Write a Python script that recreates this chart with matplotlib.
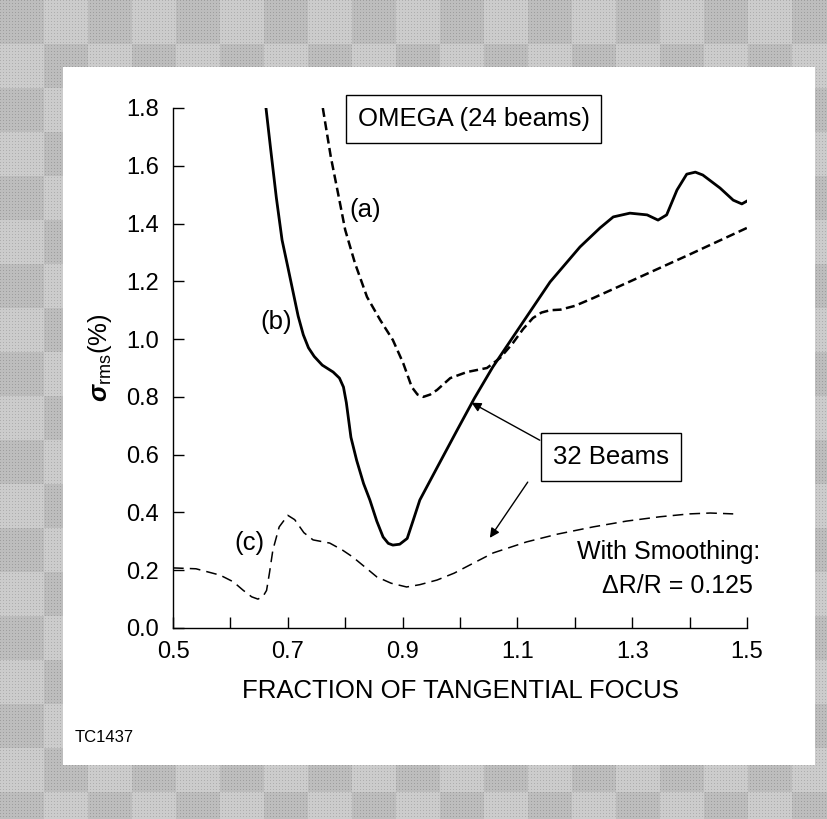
import numpy as np
import matplotlib
matplotlib.use("Agg")
import matplotlib.pyplot as plt
from matplotlib.patches import Rectangle
from matplotlib.ticker import FixedLocator

plt.rcParams['font.family'] = ['Liberation Sans', 'DejaVu Sans']
plt.rcParams['mathtext.fontset'] = 'custom'
plt.rcParams['mathtext.rm'] = 'Liberation Sans'
plt.rcParams['mathtext.it'] = 'Liberation Sans:italic'
plt.rcParams['mathtext.bf'] = 'Liberation Sans:bold:italic'

# curve (a): OMEGA 24 beams, dashed
a_x = [0.761, 0.775, 0.789, 0.800, 0.817, 0.838, 0.861, 0.883, 0.901, 0.916,
       0.926, 0.936, 0.948, 0.960, 0.983, 1.012, 1.047, 1.070, 1.092, 1.110,
       1.127, 1.142, 1.157, 1.175, 1.200, 1.232, 1.300, 1.400, 1.500]
a_y = [1.80, 1.63, 1.49, 1.378, 1.263, 1.146, 1.066, 0.997, 0.917, 0.834,
       0.808, 0.800, 0.808, 0.824, 0.865, 0.886, 0.900, 0.935, 0.986, 1.035,
       1.073, 1.092, 1.100, 1.102, 1.115, 1.142, 1.203, 1.293, 1.385]

# curve (b): 32 beams, solid
b_x = [0.662, 0.670, 0.680, 0.690, 0.700, 0.709, 0.718, 0.727, 0.736, 0.746,
       0.760, 0.779, 0.790, 0.797, 0.802, 0.806, 0.810, 0.820, 0.832, 0.843,
       0.855, 0.866, 0.875, 0.883, 0.895, 0.908, 0.918, 0.930, 0.960, 0.995,
       1.025, 1.057, 1.100, 1.157, 1.209, 1.244, 1.267, 1.296, 1.326, 1.345,
       1.360, 1.378, 1.395, 1.410, 1.423, 1.453, 1.476, 1.491, 1.500]
b_y = [1.80, 1.66, 1.49, 1.343, 1.25, 1.165, 1.08, 1.015, 0.97, 0.94,
       0.91, 0.886, 0.865, 0.834, 0.78, 0.72, 0.66, 0.58, 0.50, 0.443,
       0.37, 0.315, 0.293, 0.287, 0.290, 0.310, 0.370, 0.443, 0.555, 0.685,
       0.795, 0.903, 1.030, 1.198, 1.319, 1.385, 1.423, 1.436, 1.430, 1.412,
       1.430, 1.516, 1.571, 1.578, 1.568, 1.523, 1.481, 1.468, 1.478]

# curve (c): 32 beams with smoothing, long dashes
c_x = [0.500, 0.540, 0.582, 0.605, 0.622, 0.637, 0.648, 0.657, 0.663, 0.668,
       0.674, 0.685, 0.700, 0.712, 0.728, 0.744, 0.773, 0.795, 0.813, 0.835,
       0.855, 0.880, 0.907, 0.930, 0.960, 0.990, 1.017, 1.058, 1.116, 1.170,
       1.232, 1.290, 1.348, 1.400, 1.436, 1.476]
c_y = [0.208, 0.205, 0.183, 0.160, 0.131, 0.108, 0.100, 0.110, 0.130, 0.190,
       0.270, 0.350, 0.390, 0.375, 0.330, 0.305, 0.294, 0.270, 0.246, 0.210,
       0.177, 0.155, 0.142, 0.150, 0.166, 0.190, 0.218, 0.260, 0.298, 0.325,
       0.350, 0.370, 0.385, 0.395, 0.398, 0.395]

x_major = [0.5, 0.7, 0.9, 1.1, 1.3, 1.5]
x_minor = [0.6, 0.8, 1.0, 1.2, 1.4]
y_ticks = [0.0, 0.2, 0.4, 0.6, 0.8, 1.0, 1.2, 1.4, 1.6, 1.8]

W, H = 827, 819
fig = plt.figure(figsize=(W / 100, H / 100), dpi=100)

# halftone-like grey border
bg = fig.add_axes([0, 0, 1, 1], zorder=-10)
yy, xx = np.indices((H, W))
checker = ((xx // 44 + yy // 44) % 2) * 0.06 + 0.74
dots = ((xx % 3 == 0) & (yy % 3 == 0)) * -0.12
bg.imshow(checker + dots, cmap='gray', vmin=0, vmax=1, aspect='auto',
          extent=[0, 1, 0, 1], interpolation='nearest')
bg.add_patch(Rectangle((63 / W, 1 - 765 / H), (815 - 63) / W, (765 - 67) / H,
                       transform=bg.transAxes, facecolor='white', edgecolor='none'))
bg.set_xlim(0, 1)
bg.set_ylim(0, 1)
bg.axis('off')

ax = fig.add_axes([173 / W, 1 - 628 / H, 574 / W, 520 / H])
ax.patch.set_alpha(0)

ax.plot(a_x, a_y, color='black', lw=1.8, dashes=(3.6, 1.8))
ax.plot(b_x, b_y, color='black', lw=2.0)
ax.plot(c_x, c_y, color='black', lw=1.1, dashes=(7, 4))

ax.set_xlim(0.5, 1.5)
ax.set_ylim(0.0, 1.8)
ax.xaxis.set_major_locator(FixedLocator(x_major))
ax.xaxis.set_minor_locator(FixedLocator(x_minor))
ax.set_xticklabels([f"{v:.1f}" for v in x_major])
ax.set_yticks(y_ticks)
ax.set_yticklabels([f"{v:.1f}" for v in y_ticks])
ax.tick_params(which='both', direction='in', length=8, width=1.0,
               labelsize=17, pad=9)
ax.tick_params(axis='y', pad=10)
for s in ['top', 'right']:
    ax.spines[s].set_visible(False)
for s in ['left', 'bottom']:
    ax.spines[s].set_linewidth(1.0)

ax.set_xlabel("FRACTION OF TANGENTIAL FOCUS", fontsize=18.5, labelpad=12)
fig.text(100 / W, 1 - 358 / H, r'$\mathbf{\sigma}_{\mathrm{rms}}$(%)', rotation=90,
         fontsize=18.5, ha='center', va='center')

ax.text(0.834, 1.447, "(a)", fontsize=18.5, ha='center', va='center')
ax.text(0.679, 1.059, "(b)", fontsize=18.5, ha='center', va='center')
ax.text(0.634, 0.294, "(c)", fontsize=18.5, ha='center', va='center')

ax.text(0.822, 1.762, "OMEGA (24 beams)", fontsize=18.5, ha='left', va='center',
        bbox=dict(boxstyle='square,pad=0.45', facecolor='white',
                  edgecolor='black', lw=1.0))
ax.text(1.263, 0.592, "32 Beams", fontsize=18.5, ha='center', va='center',
        bbox=dict(boxstyle='square,pad=0.45', facecolor='white',
                  edgecolor='black', lw=1.0))

arrow = dict(arrowstyle='-|>', color='black', lw=1.0, mutation_scale=14,
             shrinkA=0, shrinkB=0)
ax.annotate("", xy=(1.02, 0.78), xytext=(1.139, 0.65), arrowprops=arrow)
ax.annotate("", xy=(1.052, 0.312), xytext=(1.118, 0.505), arrowprops=arrow)

ax.text(1.523, 0.263, "With Smoothing:", fontsize=18, ha='right', va='center')
ax.text(1.510, 0.145, "\u0394R/R = 0.125", fontsize=18, ha='right', va='center')

fig.text(75 / W, 1 - 738 / H, "TC1437", fontsize=12, ha='left', va='center')

fig.savefig("out.png", dpi=100)
